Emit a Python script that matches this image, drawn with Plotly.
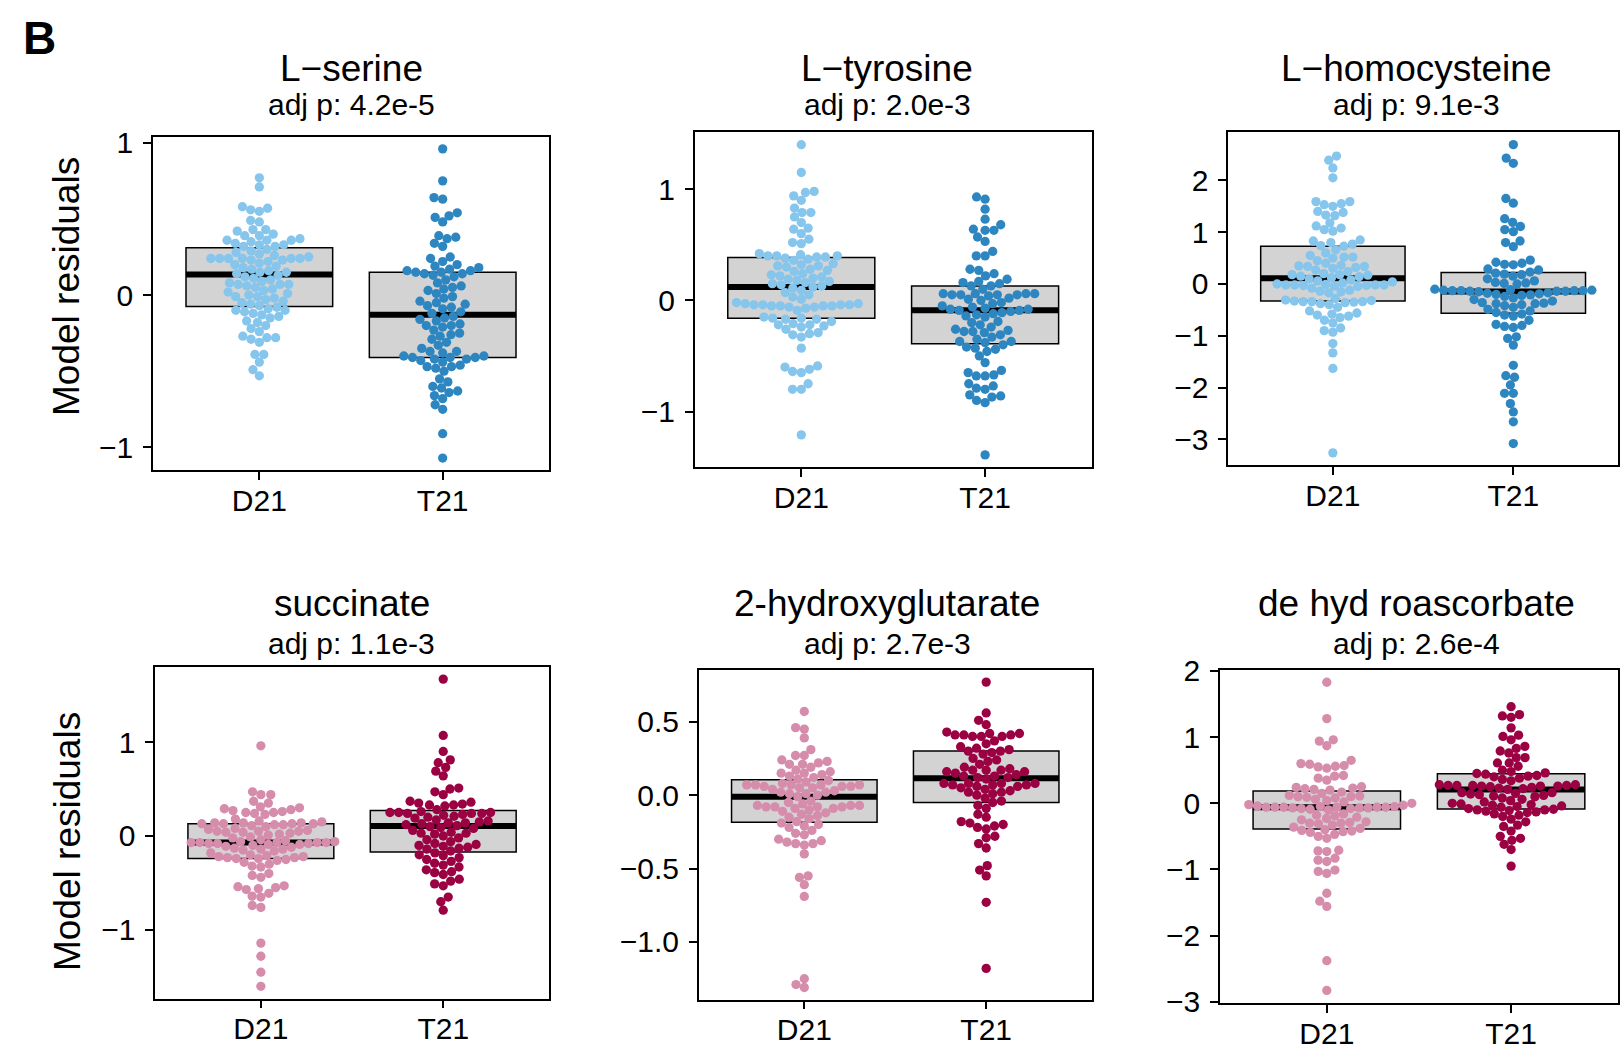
import math
import numpy as np
import plotly.graph_objects as go

W, H = 1621, 1049

# ---------------- data ----------------
titles = ["L\u2212serine", "L\u2212tyrosine", "L\u2212homocysteine",
          "succinate", "2-hydroxyglutarate", "de hyd roascorbate"]
pvals = ["adj p: 4.2e-5", "adj p: 2.0e-3", "adj p: 9.1e-3",
         "adj p: 1.1e-3", "adj p: 2.7e-3", "adj p: 2.6e-4"]
groups = ["D21", "T21"]

serine_d21 = [0.77, 0.71, 0.58, 0.57, 0.56, 0.55, 0.49, 0.48, 0.43, 0.43, 0.42, 0.40,
              0.39, 0.39, 0.37, 0.36, 0.36, 0.36, 0.35, 0.34, 0.33, 0.33, 0.32, 0.32,
              0.30, 0.29, 0.28, 0.27, 0.26, 0.25, 0.24, 0.24, 0.24, 0.24, 0.24, 0.24, 0.23, 0.23,
              0.22, 0.21, 0.20, 0.19, 0.18, 0.17, 0.16, 0.15, 0.15, 0.14,
              0.13, 0.12, 0.11, 0.10, 0.09, 0.08, 0.07, 0.07, 0.07, 0.06, 0.05, 0.04, 0.03, 0.02,
              0.01, 0.00, -0.01, -0.01, -0.02, -0.03, -0.04, -0.05, -0.06, -0.07,
              -0.08, -0.09, -0.10, -0.10, -0.11, -0.12, -0.13, -0.14, -0.15, -0.17, -0.18, -0.20,
              -0.22, -0.24, -0.27, -0.28, -0.28, -0.29, -0.31, -0.39, -0.39, -0.44, -0.49, -0.53]
serine_t21 = [0.96, 0.75, 0.64, 0.63, 0.54, 0.52, 0.51, 0.48, 0.39, 0.38, 0.37, 0.34, 0.32,
              0.25, 0.24, 0.22, 0.20, 0.19, 0.18, 0.17, 0.16, 0.16, 0.15,
              0.15, 0.14, 0.14, 0.13, 0.12, 0.10, 0.08, 0.06, 0.05, 0.04, 0.03, 0.01,
              -0.01, -0.02, -0.04, -0.05, -0.06, -0.07, -0.08, -0.09, -0.11, -0.12, -0.14, -0.15,
              -0.16, -0.17, -0.19, -0.20, -0.20, -0.21, -0.23, -0.25, -0.26, -0.27, -0.29, -0.31,
              -0.33, -0.35, -0.37, -0.37, -0.38, -0.40, -0.40, -0.41, -0.41, -0.42, -0.43,
              -0.41, -0.42, -0.44, -0.46, -0.47, -0.47, -0.48, -0.50, -0.55, -0.57, -0.60, -0.61,
              -0.63, -0.64, -0.66, -0.68, -0.72, -0.75, -0.91, -1.07]

tyrosine_d21 = [1.40, 1.15, 0.98, 0.97, 0.94, 0.90, 0.83, 0.79, 0.79, 0.75, 0.70, 0.65, 0.64,
                0.60, 0.55, 0.52, 0.51, 0.42, 0.41,
                0.40, 0.40, 0.40, 0.39, 0.39, 0.38, 0.37, 0.36, 0.33, 0.32, 0.31, 0.31, 0.30, 0.28,
                0.27, 0.26,
                0.24, 0.23, 0.22, 0.21, 0.20, 0.19, 0.18, 0.17, 0.16, 0.15, 0.14, 0.13, 0.12, 0.11,
                0.09, 0.07, 0.05, 0.03, 0.01, -0.02, -0.03, -0.03, -0.04, -0.04, -0.04, -0.04,
                -0.05, -0.05, -0.05, -0.05, -0.06, -0.06, -0.07, -0.09,
                -0.15, -0.16, -0.16, -0.17, -0.17, -0.19, -0.21, -0.22, -0.22, -0.23, -0.24, -0.26,
                -0.29, -0.30, -0.31, -0.33,
                -0.43, -0.59, -0.60, -0.62, -0.64, -0.65, -0.75, -0.80, -0.80, -1.21]
tyrosine_t21 = [0.93, 0.91, 0.82, 0.73, 0.68, 0.64, 0.63, 0.63, 0.57, 0.53, 0.44, 0.40, 0.40,
                0.28, 0.27, 0.24, 0.22, 0.19,
                0.17, 0.16, 0.15, 0.13, 0.13, 0.10, 0.06, 0.06, 0.06, 0.06, 0.05, 0.05, 0.05, 0.05,
                0.04, 0.02, 0.01, 0.00,
                -0.02, -0.03, -0.05, -0.06, -0.07, -0.08, -0.08, -0.09, -0.09, -0.10, -0.11, -0.12,
                -0.13, -0.14, -0.15,
                -0.19, -0.20, -0.22, -0.24, -0.26, -0.27, -0.28, -0.28, -0.29, -0.31, -0.33, -0.35,
                -0.37, -0.37, -0.38, -0.40, -0.42, -0.43, -0.44,
                -0.46, -0.50, -0.56, -0.63, -0.65, -0.67, -0.68, -0.68, -0.75, -0.77, -0.79, -0.80,
                -0.85, -0.86, -0.87, -0.90, -0.92, -1.39]

homocysteine_d21 = [2.47, 2.39, 2.24, 2.05, 1.59, 1.59, 1.55, 1.53, 1.50, 1.40, 1.38, 1.33, 1.32,
                    1.18, 1.12, 1.08, 1.05, 1.02, 0.85, 0.83, 0.80, 0.77, 0.74, 0.73,
                    0.66, 0.60, 0.55, 0.52, 0.52, 0.50, 0.45, 0.40, 0.36, 0.35, 0.34, 0.34, 0.32,
                    0.30, 0.27, 0.24, 0.20, 0.18, 0.18, 0.17, 0.15, 0.14, 0.12,
                    0.10, 0.08, 0.06, 0.04, 0.02, 0.00, -0.01, -0.02, -0.02, -0.02, -0.02, -0.03,
                    -0.03, -0.04, -0.05, -0.08, -0.12, -0.14, -0.15, -0.17, -0.28, -0.31, -0.32,
                    -0.33, -0.34, -0.34,
                    -0.34, -0.35, -0.36, -0.38, -0.40, -0.45, -0.52, -0.56, -0.58, -0.60, -0.62,
                    -0.65, -0.70, -0.75, -0.85, -0.90, -0.93, -1.15, -1.33, -1.63, -3.26]
homocysteine_t21 = [2.69, 2.43, 2.33, 1.65, 1.56, 1.26, 1.19, 1.11, 1.05, 1.01, 0.83, 0.80, 0.72,
                    0.46, 0.42, 0.40, 0.38, 0.37, 0.29, 0.27,
                    0.23, 0.21, 0.19, 0.18, 0.15, 0.10, 0.06, 0.03, 0.02, 0.01, 0.00, -0.10, -0.11,
                    -0.12, -0.12, -0.13, -0.13, -0.13, -0.13, -0.14, -0.14, -0.14, -0.15, -0.18,
                    -0.20, -0.21,
                    -0.17, -0.19, -0.22, -0.24, -0.27, -0.30, -0.33, -0.36, -0.37, -0.38, -0.38,
                    -0.40, -0.42, -0.45, -0.49, -0.52, -0.55, -0.58, -0.60, -0.62,
                    -0.70, -0.78, -0.80, -0.82, -0.84, -1.02, -1.05, -1.18, -1.57, -1.77, -1.80,
                    -1.95, -2.11, -2.11, -2.31, -2.47, -2.66, -3.08]

succinate_d21 = [0.96, 0.47, 0.44, 0.44, 0.37, 0.35, 0.31, 0.30, 0.29, 0.28, 0.27, 0.26, 0.25,
                 0.25, 0.24, 0.23,
                 0.18, 0.16, 0.15, 0.14, 0.14, 0.14, 0.13, 0.13, 0.13, 0.13, 0.12, 0.12, 0.11,
                 0.10, 0.08, 0.07, 0.06, 0.05, 0.05, 0.05, 0.04, 0.04, 0.03, 0.02, 0.01,
                 -0.01, -0.02, -0.04, -0.05, -0.06, -0.06, -0.07, -0.07, -0.07, -0.07, -0.07,
                 -0.08, -0.08, -0.08, -0.09, -0.09, -0.10, -0.11, -0.12, -0.13, -0.14, -0.14, -0.15,
                 -0.16, -0.18, -0.20, -0.21, -0.22, -0.22, -0.23, -0.23, -0.24, -0.24, -0.25,
                 -0.26, -0.28, -0.30, -0.32, -0.33,
                 -0.40, -0.42, -0.44, -0.53, -0.54, -0.55, -0.56, -0.57, -0.61, -0.64, -0.65,
                 -0.74, -0.76, -1.14, -1.28, -1.45, -1.60]
succinate_t21 = [1.67, 1.07, 0.90, 0.81, 0.78, 0.73, 0.69, 0.64, 0.51, 0.50, 0.47, 0.44, 0.37,
                 0.36, 0.35, 0.34, 0.33, 0.33, 0.32,
                 0.28, 0.26, 0.25, 0.25, 0.25, 0.24, 0.24, 0.24, 0.23, 0.22, 0.21, 0.20, 0.19,
                 0.17, 0.16, 0.15, 0.14, 0.14, 0.13, 0.12, 0.11, 0.10,
                 0.09, 0.08, 0.06, 0.04, 0.03, 0.03, 0.02, 0.00, -0.02, -0.04, -0.06, -0.08,
                 -0.09, -0.10, -0.11, -0.12, -0.13, -0.14,
                 -0.16, -0.18, -0.20, -0.21, -0.23, -0.25, -0.27, -0.29, -0.31, -0.33, -0.36,
                 -0.38, -0.39, -0.41, -0.46, -0.48, -0.51, -0.53, -0.65, -0.70, -0.79]

hydroxyglutarate_d21 = [0.57, 0.46, 0.45, 0.39, 0.31, 0.27, 0.27, 0.24, 0.23, 0.22, 0.21, 0.21,
                        0.19, 0.17, 0.16, 0.15, 0.15, 0.14, 0.13,
                        0.12, 0.11, 0.10, 0.09, 0.08, 0.07, 0.07, 0.07, 0.07, 0.07, 0.06, 0.06,
                        0.06, 0.05, 0.05, 0.04, 0.03, 0.02, 0.01, 0.00,
                        -0.01, 0.02, 0.01, -0.04, -0.05, -0.06, -0.07, -0.07, -0.07, -0.08, -0.08,
                        -0.08, -0.08, -0.09, -0.09, -0.10, -0.11, -0.12, -0.13, -0.14, -0.15,
                        -0.16, -0.18, -0.19,
                        -0.20, -0.21, -0.22, -0.24, -0.26, -0.27, -0.30, -0.31, -0.32, -0.33,
                        -0.33, -0.34, -0.40, -0.55, -0.56, -0.61, -0.69, -1.25, -1.29, -1.31]
hydroxyglutarate_t21 = [0.77, 0.56, 0.51, 0.48, 0.43, 0.42, 0.42, 0.41, 0.41, 0.40, 0.40, 0.40,
                        0.41, 0.37, 0.35, 0.33, 0.32, 0.31, 0.30, 0.30, 0.29, 0.28,
                        0.25, 0.24, 0.23, 0.21, 0.19, 0.18, 0.17, 0.17, 0.17, 0.16, 0.16, 0.15,
                        0.14, 0.13, 0.12, 0.12, 0.11,
                        0.13, 0.08, 0.08, 0.08, 0.08, 0.07, 0.07, 0.07, 0.06, 0.06, 0.05, 0.04,
                        0.03, 0.02, 0.02, 0.01, 0.00, -0.02, -0.04, -0.05,
                        -0.07, -0.09, -0.13, -0.15, -0.18, -0.19, -0.20, -0.21, -0.22, -0.23,
                        -0.28, -0.29, -0.33, -0.36, -0.48, -0.51, -0.55, -0.73, -1.18]

dehydroascorbate_d21 = [1.83, 1.28, 0.96, 0.94, 0.87, 0.65, 0.60, 0.59, 0.57, 0.56, 0.55, 0.53,
                        0.42, 0.41, 0.38, 0.35, 0.25, 0.24, 0.23, 0.22, 0.21, 0.20,
                        0.17, 0.15, 0.12, 0.11, 0.10, 0.10, 0.09, 0.08, 0.06, 0.04, 0.02, 0.00,
                        -0.02, -0.03, -0.04,
                        -0.05, -0.05, -0.06, -0.06, -0.06, -0.06, -0.06, -0.06, -0.07, -0.07,
                        -0.07, -0.08, -0.08, -0.09, -0.10,
                        -0.16, -0.18, -0.19, -0.21, -0.23, -0.25, -0.28, -0.29, -0.30, -0.30,
                        -0.31, -0.33, -0.36, -0.38, -0.40, -0.42, -0.43,
                        -0.41, -0.44, -0.47, -0.50, -0.53, -0.71, -0.72, -0.73, -0.83, -0.86,
                        -0.88, -1.01, -1.03, -1.06, -1.36, -1.48, -1.56, -2.38, -2.83]
dehydroascorbate_t21 = [1.46, 1.34, 1.32, 1.30, 1.14, 1.03, 1.01, 0.96, 0.86, 0.83, 0.79, 0.76,
                        0.69, 0.69, 0.61, 0.61, 0.56, 0.50, 0.48, 0.46,
                        0.45, 0.44, 0.42, 0.41, 0.40, 0.38, 0.36, 0.34, 0.28, 0.28, 0.27, 0.27,
                        0.27, 0.27, 0.26, 0.26, 0.26, 0.25, 0.24, 0.23, 0.22, 0.21,
                        0.16, 0.16, 0.15, 0.14, 0.13, 0.12, 0.11, 0.10, 0.08, 0.06, 0.04, 0.02,
                        0.00, -0.01, -0.02, -0.03, -0.04, -0.05, -0.06, -0.08, -0.09, -0.10, -0.10,
                        -0.11, -0.12, -0.13, -0.14, -0.16, -0.18, -0.20, -0.24, -0.28, -0.33,
                        -0.35, -0.42, -0.50, -0.53, -0.56, -0.62, -0.70, -0.95]

panel_data = [
    (serine_d21, serine_t21),
    (tyrosine_d21, tyrosine_t21),
    (homocysteine_d21, homocysteine_t21),
    (succinate_d21, succinate_t21),
    (hydroxyglutarate_d21, hydroxyglutarate_t21),
    (dehydroascorbate_d21, dehydroascorbate_t21),
]
ytick_vals = [[-1, 0, 1], [-1, 0, 1], [-3, -2, -1, 0, 1, 2],
              [-1, 0, 1], [-1.0, -0.5, 0.0, 0.5], [-3, -2, -1, 0, 1, 2]]
ytick_text = [["\u22121", "0", "1"], ["\u22121", "0", "1"],
              ["\u22123", "\u22122", "\u22121", "0", "1", "2"],
              ["\u22121", "0", "1"], ["\u22121.0", "\u22120.5", "0.0", "0.5"],
              ["\u22123", "\u22122", "\u22121", "0", "1", "2"]]

# ---------------- styling / layout ----------------
# plot frames in pixels: (left, right, top, bottom)
frames = [(153.0, 549.0, 136.5, 470.4), (694.7, 1091.7, 132.3, 467.3), (1228.2, 1618.0, 132.3, 465.2),
          (155.1, 549.0, 666.8, 998.6), (698.8, 1091.7, 669.9, 999.7), (1219.9, 1618.0, 669.9, 1002.8)]
title_cx = [351.5, 887.0, 1416.0, 351.5, 887.0, 1416.0]
title_y = [(68, 104.5)] * 3 + [(603, 643)] * 3
colors = [("#86C5EC", "#2E86C1")] * 3 + [("#D68CAB", "#9B0042")] * 3
FONT = "Liberation Sans, Arial, Helvetica, sans-serif"
XRANGE = [0.42, 2.58]
DOT = 9.3
SPACING = 8.8


def hinges(v):
    s = sorted(v)
    n = len(s)
    n4 = math.floor((n + 3) / 2) / 2
    d = [1, n4, (n + 1) / 2, n + 1 - n4, n]
    return [0.5 * (s[math.floor(x) - 1] + s[math.ceil(x) - 1]) for x in d]


def swarm(vals, ppu, d):
    ys = np.asarray(vals, dtype=float) * ppu
    order = np.argsort(ys, kind="stable")
    xs = np.zeros(len(ys))
    px, py = [], []
    for i in order:
        y = ys[i]
        near = [(a, b) for a, b in zip(px, py) if abs(b - y) < d]
        cands = [0.0]
        for a, b in near:
            dx = math.sqrt(max(d * d - (b - y) ** 2, 0.0))
            cands += [a + dx, a - dx]
        cands.sort(key=lambda c: (abs(c), c))
        for c in cands:
            if all((c - a) ** 2 + (y - b) ** 2 >= d * d - 1e-6 for a, b in near):
                xs[i] = c
                break
        px.append(xs[i])
        py.append(y)
    return xs


fig = go.Figure()
layout = dict(width=W, height=H, margin=dict(l=0, r=0, t=0, b=0, pad=0), autosize=False,
              paper_bgcolor="white", plot_bgcolor="white", showlegend=False,
              font=dict(family=FONT, color="black", size=30))
annotations = []

for k, (fr, (d21, t21)) in enumerate(zip(frames, panel_data)):
    L, R, T, B = fr
    ax = "" if k == 0 else str(k + 1)
    allv = d21 + t21
    lo, hi = min(allv), max(allv)
    pad = 0.04 * (hi - lo)
    yr = [lo - pad, hi + pad]
    yppu = (B - T) / (yr[1] - yr[0])
    xppu = (R - L) / (XRANGE[1] - XRANGE[0])

    for gi, vals in enumerate((d21, t21)):
        pos = gi + 1
        h = hinges(vals)
        fig.add_trace(go.Box(x=[pos], q1=[h[1]], median=[h[2]], q3=[h[3]],
                             lowerfence=[h[1]], upperfence=[h[3]], width=0.8,
                             whiskerwidth=0, fillcolor="#D3D3D3",
                             line=dict(color="black", width=1.5),
                             xaxis="x" + ax, yaxis="y" + ax, hoverinfo="skip"))
    for gi, vals in enumerate((d21, t21)):
        pos = gi + 1
        h = hinges(vals)
        fig.add_trace(go.Scatter(x=[pos - 0.4, pos + 0.4], y=[h[2], h[2]], mode="lines",
                                 line=dict(color="black", width=6),
                                 xaxis="x" + ax, yaxis="y" + ax, hoverinfo="skip"))
    for gi, vals in enumerate((d21, t21)):
        pos = gi + 1
        offs = swarm(vals, yppu, SPACING)
        fig.add_trace(go.Scatter(x=list(pos + offs / xppu), y=vals, mode="markers",
                                 marker=dict(size=DOT, color=colors[k][gi], line=dict(width=0)),
                                 xaxis="x" + ax, yaxis="y" + ax, hoverinfo="skip"))

    axcommon = dict(showline=True, linecolor="black", linewidth=1.5, mirror=True,
                    ticks="outside", ticklen=8, tickwidth=1.5, tickcolor="black",
                    showgrid=False, zeroline=False, automargin=False,
                    tickfont=dict(family=FONT, size=30, color="black"))
    layout["xaxis" + ax] = dict(domain=[L / W, R / W], range=XRANGE, tickvals=[1, 2],
                                ticktext=groups, anchor="y" + ax, ticklabelstandoff=-5,
                                **axcommon)
    layout["yaxis" + ax] = dict(domain=[1 - B / H, 1 - T / H], range=yr,
                                tickvals=ytick_vals[k], ticktext=ytick_text[k],
                                anchor="x" + ax, ticklabelstandoff=4, **axcommon)

    annotations.append(dict(x=title_cx[k] / W, y=1 - title_y[k][0] / H, xref="paper", yref="paper",
                            text=titles[k], showarrow=False, xanchor="center", yanchor="middle",
                            font=dict(family=FONT, size=37, color="black")))
    annotations.append(dict(x=title_cx[k] / W, y=1 - title_y[k][1] / H, xref="paper", yref="paper",
                            text=pvals[k], showarrow=False, xanchor="center", yanchor="middle",
                            font=dict(family=FONT, size=30, color="black")))

for yc in (287, 842):
    annotations.append(dict(x=67 / W, y=1 - yc / H, xref="paper", yref="paper",
                            text="Model residuals", showarrow=False, textangle=-90,
                            xanchor="center", yanchor="middle",
                            font=dict(family=FONT, size=37, color="black")))
annotations.append(dict(x=39 / W, y=1 - 38 / H, xref="paper", yref="paper", text="<b>B</b>",
                        showarrow=False, xanchor="center", yanchor="middle",
                        font=dict(family=FONT, size=46, color="black")))
layout["annotations"] = annotations
fig.update_layout(**layout)
fig.write_html("out.html", config={"responsive": False},
               post_script="document.documentElement.style.margin='0';"
                           "document.body.style.margin='0';document.body.style.padding='0';"
                           "document.documentElement.style.overflow='hidden';"
                           "document.body.style.overflow='hidden';")
